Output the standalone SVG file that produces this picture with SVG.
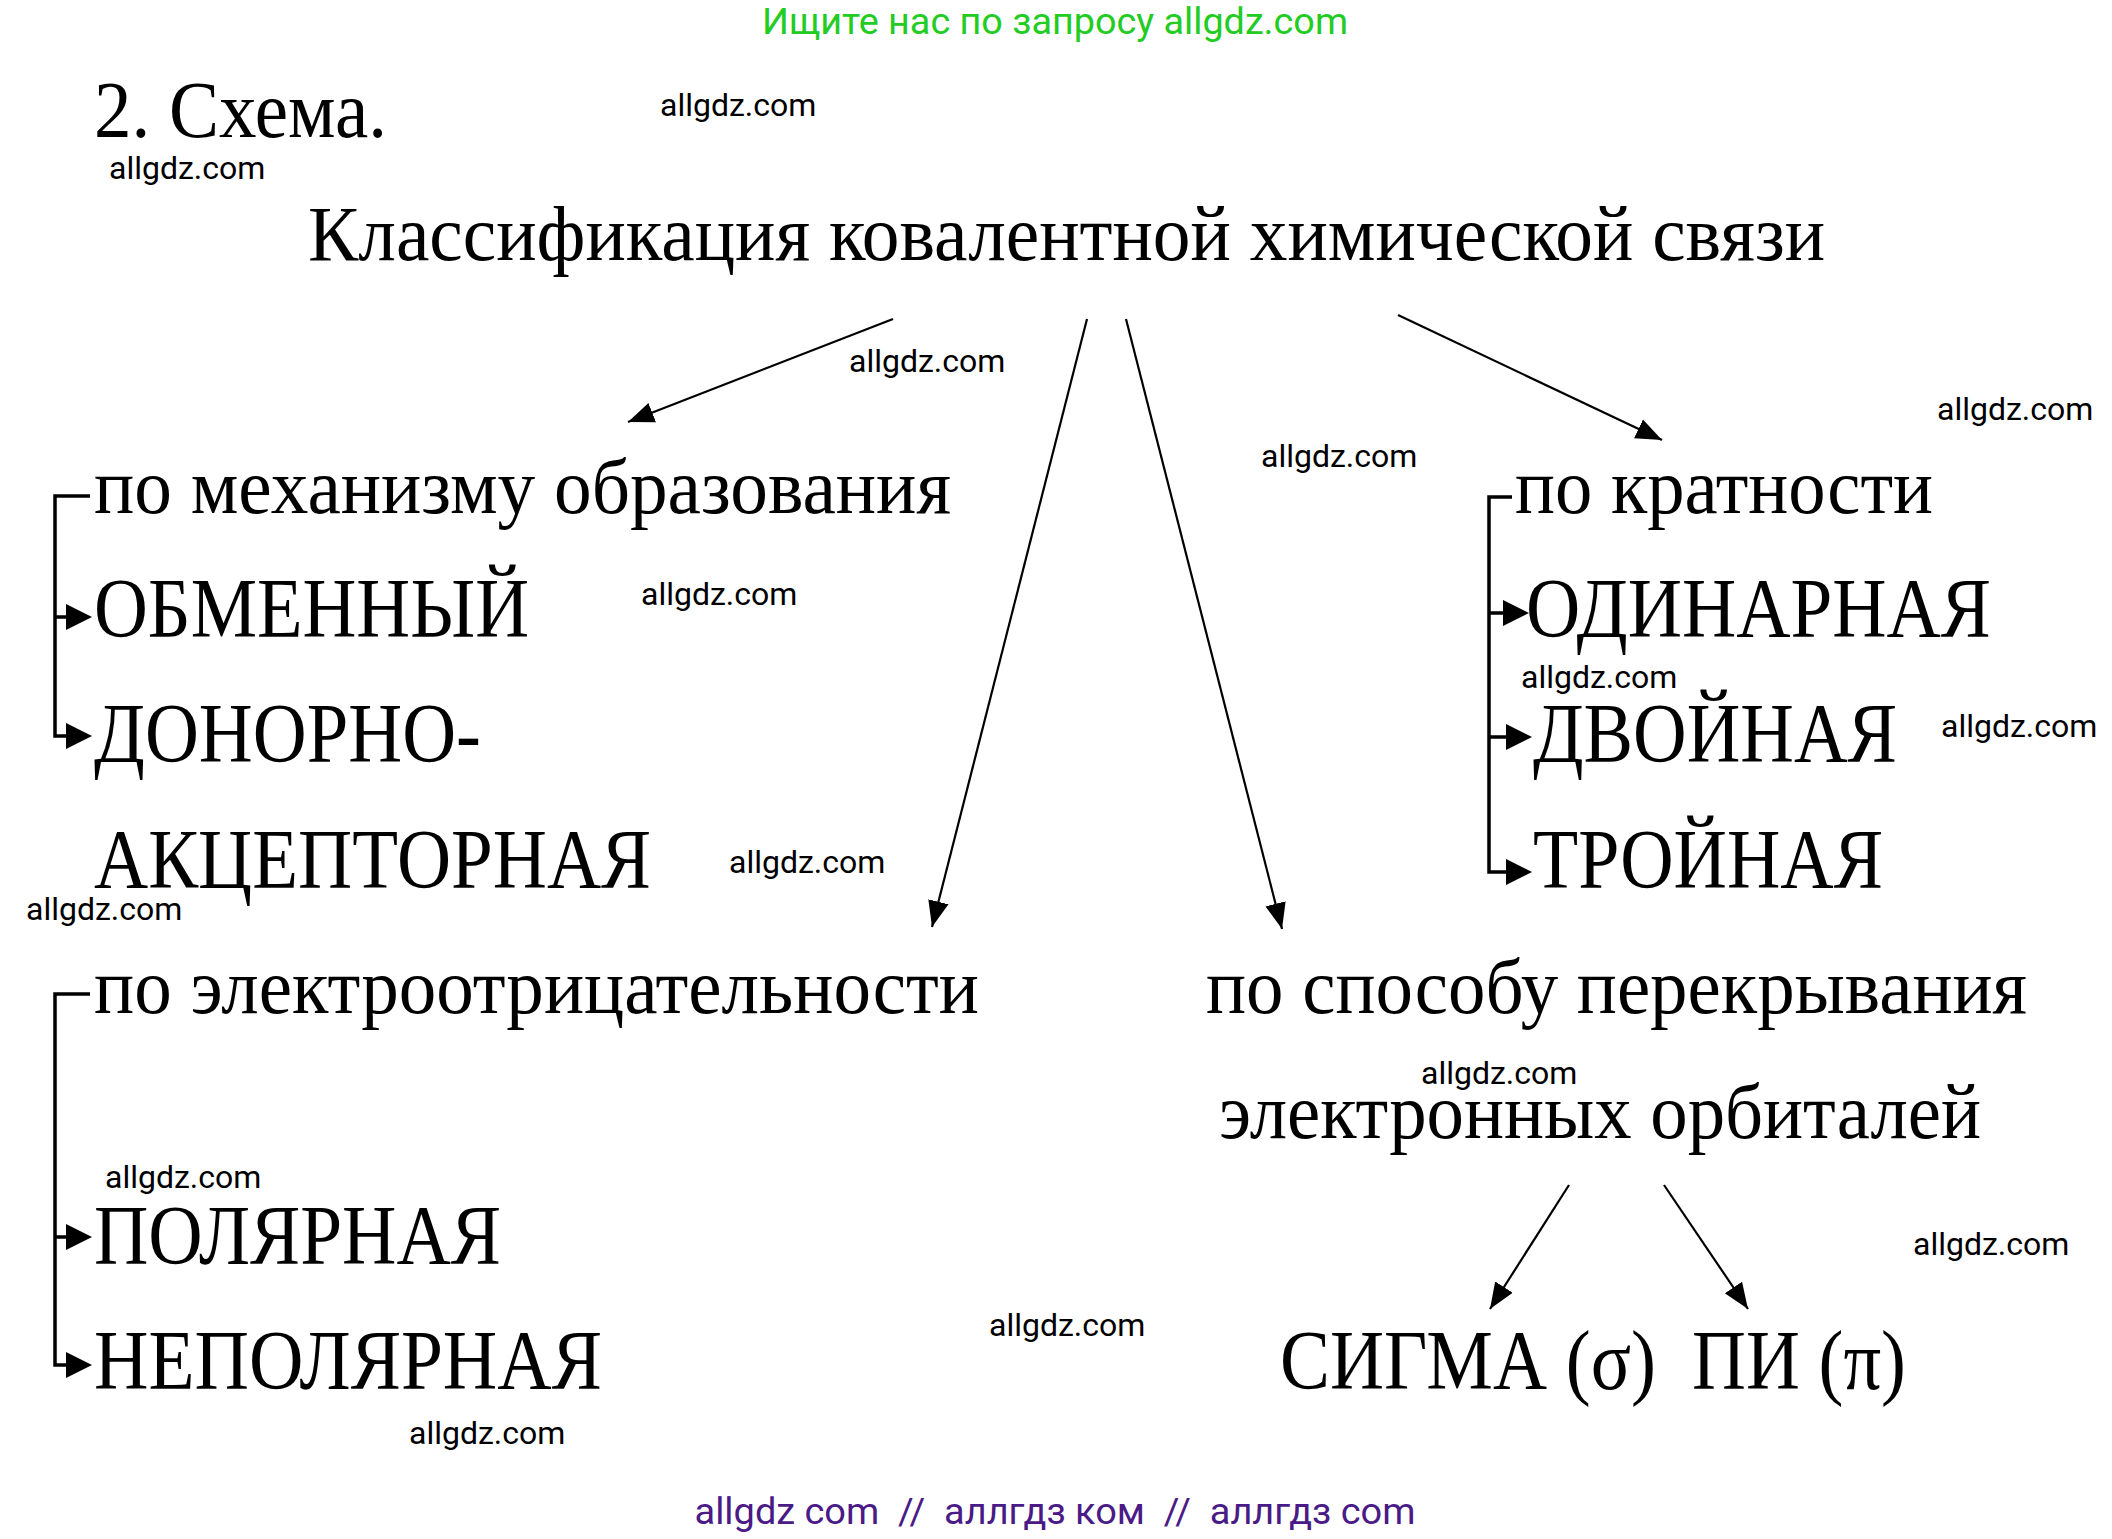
<svg xmlns="http://www.w3.org/2000/svg" width="2112" height="1539" viewBox="0 0 2112 1539">
<defs>
<style>
.s{font-family:"Liberation Serif","Times New Roman",serif;fill:#000}
.t{font-size:78px}
.c{font-size:84px}
.w{font-family:Roboto,"Liberation Sans",sans-serif;font-size:32px;fill:#000}
.ln{stroke:#000;stroke-width:2.2;fill:none}
.br{stroke:#000;stroke-width:3.5;fill:none}
.hd{fill:#000}
</style>
<marker id="ah" viewBox="0 0 10 10" refX="10" refY="5" markerWidth="26" markerHeight="26" markerUnits="userSpaceOnUse" orient="auto">
<path d="M0,1 L10,5 L0,9 Z" fill="#000"/>
</marker>
</defs>
<rect width="2112" height="1539" fill="#fff"/>

<text x="1055" y="34" text-anchor="middle" font-family="Roboto,'Liberation Sans',sans-serif" font-size="36" fill="#22cc22" textLength="586" lengthAdjust="spacingAndGlyphs">Ищите нас по запросу allgdz.com</text>
<text x="1055" y="1524" text-anchor="middle" font-family="Roboto,'Liberation Sans',sans-serif" font-size="37" fill="#4a1a86" xml:space="preserve" style="white-space:pre" textLength="721" lengthAdjust="spacingAndGlyphs">allgdz com  //  аллгдз ком  //  аллгдз com</text>

<text class="s" x="94" y="137" font-size="80" textLength="293" lengthAdjust="spacingAndGlyphs">2. Схема.</text>

<g id="n-title"><text class="s t" x="308" y="260" textLength="1517" lengthAdjust="spacingAndGlyphs">Классификация ковалентной химической связи</text></g>

<g id="n-mech"><text class="s t" x="94" y="513" textLength="857" lengthAdjust="spacingAndGlyphs">по механизму образования</text></g>
<g id="n-exch"><text class="s c" x="94" y="637" textLength="435" lengthAdjust="spacingAndGlyphs">ОБМЕННЫЙ</text></g>
<g id="n-donor"><text class="s c" x="94" y="762" textLength="387" lengthAdjust="spacingAndGlyphs">ДОНОРНО-</text><text class="s c" x="94" y="888" textLength="557" lengthAdjust="spacingAndGlyphs">АКЦЕПТОРНАЯ</text></g>

<g id="n-electro"><text class="s t" x="94" y="1013" textLength="885" lengthAdjust="spacingAndGlyphs">по электроотрицательности</text></g>
<g id="n-polar"><text class="s c" x="94" y="1264" textLength="407" lengthAdjust="spacingAndGlyphs">ПОЛЯРНАЯ</text></g>
<g id="n-nonpolar"><text class="s c" x="94" y="1389" textLength="508" lengthAdjust="spacingAndGlyphs">НЕПОЛЯРНАЯ</text></g>

<g id="n-mult"><text class="s t" x="1515" y="513" textLength="418" lengthAdjust="spacingAndGlyphs">по кратности</text></g>
<g id="n-single"><text class="s c" x="1526" y="637" textLength="465" lengthAdjust="spacingAndGlyphs">ОДИНАРНАЯ</text></g>
<g id="n-double"><text class="s c" x="1533" y="762" textLength="364" lengthAdjust="spacingAndGlyphs">ДВОЙНАЯ</text></g>
<g id="n-triple"><text class="s c" x="1533" y="888" textLength="350" lengthAdjust="spacingAndGlyphs">ТРОЙНАЯ</text></g>

<g id="n-overlap"><text class="s t" x="1206" y="1013" textLength="821" lengthAdjust="spacingAndGlyphs">по способу перекрывания</text><text class="s t" x="1219" y="1138" textLength="762" lengthAdjust="spacingAndGlyphs">электронных орбиталей</text></g>
<g id="n-sigma"><text class="s c" x="1280" y="1389" textLength="376" lengthAdjust="spacingAndGlyphs">СИГМА (σ)</text></g>
<g id="n-pi"><text class="s c" x="1692" y="1389" textLength="214" lengthAdjust="spacingAndGlyphs">ПИ (π)</text></g>

<g id="connectors">
<line class="ln" x1="893" y1="319" x2="628" y2="422" marker-end="url(#ah)"/>
<line class="ln" x1="1087" y1="319" x2="932" y2="927" marker-end="url(#ah)"/>
<line class="ln" x1="1126" y1="319" x2="1282" y2="929" marker-end="url(#ah)"/>
<line class="ln" x1="1398" y1="315" x2="1662" y2="440" marker-end="url(#ah)"/>
<line class="ln" x1="1569" y1="1185" x2="1490" y2="1309" marker-end="url(#ah)"/>
<line class="ln" x1="1664" y1="1185" x2="1748" y2="1309" marker-end="url(#ah)"/>

<path class="br" d="M90,496 H55 V736 H70 M55,617 H70"/>
<polygon class="hd" points="66,604 92,617 66,630"/>
<polygon class="hd" points="66,723 92,736 66,749"/>

<path class="br" d="M90,994 H55 V1365 H70 M55,1237 H70"/>
<polygon class="hd" points="66,1224 92,1237 66,1250"/>
<polygon class="hd" points="66,1352 92,1365 66,1378"/>

<path class="br" d="M1512,497 H1489 V872 H1508 M1489,613 H1506 M1489,737 H1510"/>
<polygon class="hd" points="1503,600 1529,613 1503,626"/>
<polygon class="hd" points="1506,724 1532,737 1506,750"/>
<polygon class="hd" points="1506,859 1532,872 1506,885"/>
</g>

<g id="watermarks">
<text class="w" x="660" y="116">allgdz.com</text>
<text class="w" x="109" y="179">allgdz.com</text>
<text class="w" x="849" y="372">allgdz.com</text>
<text class="w" x="1937" y="420">allgdz.com</text>
<text class="w" x="1261" y="467">allgdz.com</text>
<text class="w" x="641" y="605">allgdz.com</text>
<text class="w" x="1521" y="688">allgdz.com</text>
<text class="w" x="1941" y="737">allgdz.com</text>
<text class="w" x="729" y="873">allgdz.com</text>
<text class="w" x="26" y="920">allgdz.com</text>
<text class="w" x="1421" y="1084">allgdz.com</text>
<text class="w" x="105" y="1188">allgdz.com</text>
<text class="w" x="1913" y="1255">allgdz.com</text>
<text class="w" x="989" y="1336">allgdz.com</text>
<text class="w" x="409" y="1444">allgdz.com</text>
</g>
</svg>
